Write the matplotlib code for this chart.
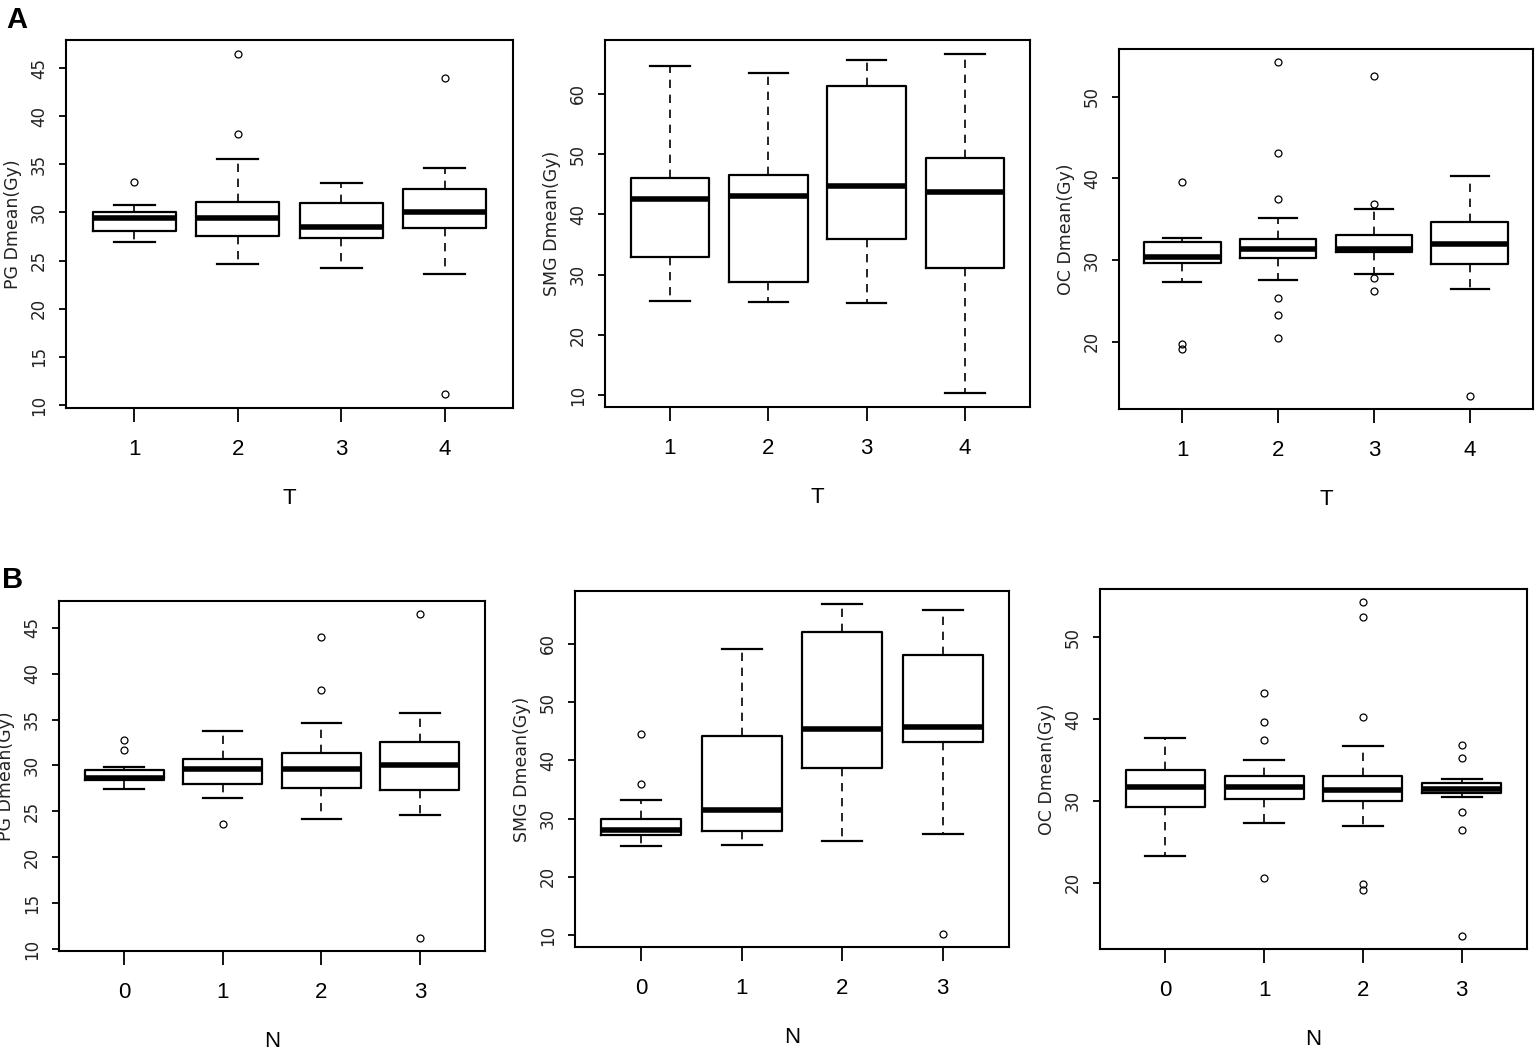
import numpy as np
import matplotlib
matplotlib.use('Agg')
import matplotlib.pyplot as plt

plt.rcParams['font.family'] = ['DejaVu Sans']
plt.rcParams['axes.linewidth'] = 1.5

NARROW = ['Liberation Sans Narrow', 'Liberation Sans', 'DejaVu Sans']

# group labels
t_groups = ['1', '2', '3', '4']
n_groups = ['0', '1', '2', '3']

# ---- A: by T stage ----
pg_t_lo = [26.9, 24.6, 24.2, 23.6]
pg_t_q1 = [28.1, 27.6, 27.3, 28.4]
pg_t_med = [29.4, 29.4, 28.5, 30.0]
pg_t_q3 = [30.0, 31.1, 31.0, 32.4]
pg_t_hi = [30.8, 35.6, 33.1, 34.6]
pg_t_out = [[33.2], [46.5, 38.2], [], [44.0, 11.1]]

smg_t_lo = [25.7, 25.4, 25.3, 10.3]
smg_t_q1 = [33.0, 28.8, 35.9, 31.1]
smg_t_med = [42.6, 43.1, 44.7, 43.7]
smg_t_q3 = [46.1, 46.6, 61.3, 49.3]
smg_t_hi = [64.6, 63.4, 65.7, 66.7]
smg_t_out = [[], [], [], []]

oc_t_lo = [27.3, 27.6, 28.3, 26.5]
oc_t_q1 = [29.6, 30.3, 31.0, 29.5]
oc_t_med = [30.4, 31.3, 31.3, 32.0]
oc_t_q3 = [32.2, 32.6, 33.1, 34.7]
oc_t_hi = [32.7, 35.1, 36.3, 40.3]
oc_t_out = [[39.6, 19.7, 19.1], [54.2, 43.1, 37.5, 25.3, 23.3, 20.5],
            [52.5, 36.9, 27.8, 26.2], [13.4]]

# ---- B: by N stage ----
pg_n_lo = [27.4, 26.5, 24.2, 24.6]
pg_n_q1 = [28.4, 28.0, 27.5, 27.3]
pg_n_med = [28.6, 29.6, 29.6, 30.1]
pg_n_q3 = [29.5, 30.7, 31.4, 32.6]
pg_n_hi = [29.8, 33.8, 34.6, 35.7]
pg_n_out = [[32.8, 31.7], [23.6], [44.0, 38.2], [46.5, 11.2]]

smg_n_lo = [25.2, 25.5, 26.2, 27.4]
smg_n_q1 = [27.1, 27.8, 38.7, 43.1]
smg_n_med = [28.0, 31.5, 45.4, 45.7]
smg_n_q3 = [30.0, 44.2, 62.1, 58.1]
smg_n_hi = [33.2, 59.1, 66.8, 65.8]
smg_n_out = [[44.5, 35.9], [], [], [10.2]]

oc_n_lo = [23.3, 27.3, 26.9, 30.5]
oc_n_q1 = [29.3, 30.2, 30.0, 31.0]
oc_n_med = [31.7, 31.7, 31.3, 31.5]
oc_n_q3 = [33.8, 33.1, 33.1, 32.2]
oc_n_hi = [37.7, 35.0, 36.7, 32.7]
oc_n_out = [[], [43.2, 39.7, 37.5, 20.5], [54.3, 52.5, 40.3, 19.8, 19.1],
            [36.8, 35.2, 28.6, 26.4, 13.5]]


def box_stats(lo, q1, med, q3, hi, out):
    st = []
    for i in range(len(med)):
        st.append(dict(whislo=lo[i], q1=q1[i], med=med[i], q3=q3[i],
                       whishi=hi[i], fliers=out[i]))
    return st


def rbox(ax, stats, labels, yticks, ylab, xlab, wpx, hpx):
    pos = np.arange(1, len(stats) + 1)
    ax.bxp(stats, positions=pos, widths=0.8, capwidths=0.4, showfliers=True,
           boxprops=dict(color='black', lw=1.6),
           medianprops=dict(color='black', lw=4, solid_capstyle='butt'),
           whiskerprops=dict(color='black', lw=1.2, linestyle=(0, (5, 4))),
           capprops=dict(color='black', lw=1.6),
           flierprops=dict(marker='o', markersize=5, markerfacecolor='none',
                           markeredgecolor='black', markeredgewidth=0.9))
    vals = []
    for s in stats:
        vals += [s['whislo'], s['whishi']] + list(s['fliers'])
    lo, hi = min(vals), max(vals)
    pad = 0.04 * (hi - lo)
    ax.set_ylim(lo - pad, hi + pad)
    ax.set_xlim(0.5 - 0.16, len(stats) + 0.5 + 0.16)
    ax.set_xticks(pos)
    ax.set_xticklabels(labels, family=NARROW, fontsize=16)
    ax.set_yticks(yticks)
    ax.set_yticklabels([str(v) for v in yticks], fontsize=12, rotation=90,
                       va='center', color='#222222')
    ax.tick_params(axis='x', length=10, width=1.3, pad=12)
    ax.tick_params(axis='y', length=5, width=1.3, pad=8)
    ax.set_ylabel(ylab, fontsize=12.5, color='#222222')
    ax.yaxis.set_label_coords(-44 / wpx, 0.5)
    ax.set_xlabel(xlab, fontsize=16, family=NARROW)
    ax.xaxis.set_label_coords(0.5, -80 / hpx)


W, H = 1536, 1050
fig = plt.figure(figsize=(W / 100, H / 100), dpi=100)


def panel(l, r, t, b, stats, labels, yticks, ylab, xlab):
    ax = fig.add_axes([l / W, 1 - b / H, (r - l) / W, (b - t) / H])
    rbox(ax, stats, labels, yticks, ylab, xlab, r - l, b - t)
    return ax


panel(66, 513, 40, 408,
      box_stats(pg_t_lo, pg_t_q1, pg_t_med, pg_t_q3, pg_t_hi, pg_t_out),
      t_groups, [10, 15, 20, 25, 30, 35, 40, 45], 'PG Dmean(Gy)', 'T')
panel(605, 1030, 40, 407,
      box_stats(smg_t_lo, smg_t_q1, smg_t_med, smg_t_q3, smg_t_hi, smg_t_out),
      t_groups, [10, 20, 30, 40, 50, 60], 'SMG Dmean(Gy)', 'T')
panel(1119, 1533, 49, 409,
      box_stats(oc_t_lo, oc_t_q1, oc_t_med, oc_t_q3, oc_t_hi, oc_t_out),
      t_groups, [20, 30, 40, 50], 'OC Dmean(Gy)', 'T')

panel(59, 485, 601, 951,
      box_stats(pg_n_lo, pg_n_q1, pg_n_med, pg_n_q3, pg_n_hi, pg_n_out),
      n_groups, [10, 15, 20, 25, 30, 35, 40, 45], 'PG Dmean(Gy)', 'N')
panel(575, 1009, 591, 947,
      box_stats(smg_n_lo, smg_n_q1, smg_n_med, smg_n_q3, smg_n_hi, smg_n_out),
      n_groups, [10, 20, 30, 40, 50, 60], 'SMG Dmean(Gy)', 'N')
panel(1100, 1527, 589, 949,
      box_stats(oc_n_lo, oc_n_q1, oc_n_med, oc_n_q3, oc_n_hi, oc_n_out),
      n_groups, [20, 30, 40, 50], 'OC Dmean(Gy)', 'N')

fig.text(6 / W, 1 - 6 / H, 'A', fontsize=21, fontweight='bold', va='top', ha='left',
         family=['Liberation Sans', 'DejaVu Sans'])
fig.text(2 / W, 1 - 566 / H, 'B', fontsize=21, fontweight='bold', va='top', ha='left',
         family=['Liberation Sans', 'DejaVu Sans'])

fig.savefig('out.png', dpi=100, facecolor='white')
